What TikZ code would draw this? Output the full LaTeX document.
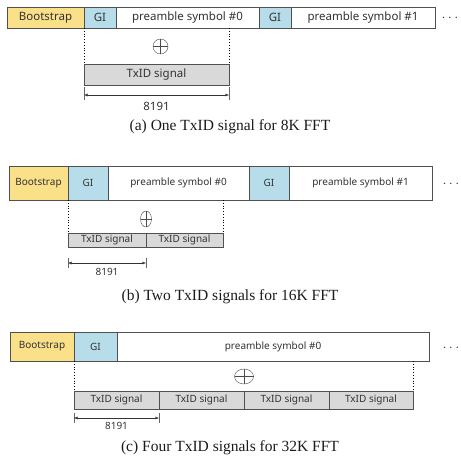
\documentclass[tikz,border=0pt]{standalone}
\usepackage{fontspec}
\setmainfont{Noto Sans}
\newfontfamily\capfont{Liberation Serif}
\usetikzlibrary{arrows.meta,positioning,shapes.geometric,calc}
\definecolor{frameGray}{HTML}{505050}
\definecolor{bootYellow}{HTML}{FBE08A}
\definecolor{giBlue}{HTML}{B7DDEA}
\definecolor{txGray}{HTML}{D9D9D9}
\definecolor{capInk}{HTML}{1A1A1A}

\begin{document}
\begin{tikzpicture}[x=1pt,y=-1pt,font=\fontsize{11.5}{13}\selectfont,node distance=0pt]
    \tikzset{field/.style={draw=frameGray,line width=0.6pt,fill=white,inner sep=0pt,outer sep=0pt,text=black!80},
      boot/.style={field,fill=bootYellow},
      gi/.style={field,fill=giBlue},
      txid/.style={field,fill=txGray},
      xorsym/.style={ellipse,draw=black!70,inner sep=0pt,outer sep=0pt},
      span/.style={{Latex[length=3.5pt,width=3pt]}-{Latex[length=3.5pt,width=3pt]},black!80,thin},
      ellip/.style={font=\fontsize{15}{15}\selectfont\bfseries,text=black!75,inner sep=0pt},
      caption/.style={font=\capfont\fontsize{15.5}{17}\selectfont,text=capInk}}
    \useasboundingbox (0,0) rectangle (460,462);
    % (a) 8K FFT
    \begin{scope}[every node/.append style={minimum height=21pt}]
      \node[boot,minimum width=77pt,anchor=north west] (a-boot) at (7,7) {Bootstrap};
      \node[gi,minimum width=32pt,right=of a-boot] (a-gi0) {GI};
      \node[field,minimum width=143pt,right=of a-gi0] (a-pre0) {preamble symbol \#0};
      \node[gi,minimum width=32pt,right=of a-pre0] (a-gi1) {GI};
      \node[field,minimum width=144pt,right=of a-gi1] (a-pre1) {preamble symbol \#1};
      \node[txid,minimum width=145pt,anchor=north west] (a-tx) at (84,64) {TxID signal};
    \end{scope}
    \node[ellip] (a-dots) at (450,18) {$\cdots$};
    \node[xorsym,minimum width=15pt,minimum height=15pt,above=10pt of a-tx,xshift=4pt] (a-xor) {};
    \draw[black!70] (a-xor.north) -- (a-xor.south) (a-xor.west) -- (a-xor.east);
    \draw[dotted,thick] (a-gi0.south west) -- (a-tx.north west);
    \draw[dotted,thick] (a-tx.north east |- a-pre0.south) -- (a-tx.north east);
    \draw[black!60] ($(a-tx.south west)+(0,2)$) -- ++(0,13) ($(a-tx.south east)+(0,2)$) -- ++(0,13);
    \draw[span] ($(a-tx.south west)+(0,10)$) -- ($(a-tx.south east)+(0,10)$)
      node[midway,below=4pt] (a-len) {8191};
    \node[caption] (a-cap) at (230,127) {(a) One TxID signal for 8K FFT};
    % (b) 16K FFT
    \begin{scope}[every node/.append style={minimum height=34pt,font=\fontsize{10}{12}\selectfont}]
      \node[boot,minimum width=59pt,anchor=north west] (b-boot) at (9,166) {Bootstrap};
      \node[gi,minimum width=40pt,right=of b-boot] (b-gi0) {GI};
      \node[field,minimum width=141pt,right=of b-gi0] (b-pre0) {preamble symbol \#0};
      \node[gi,minimum width=40pt,right=of b-pre0] (b-gi1) {GI};
      \node[field,minimum width=143pt,right=of b-gi1] (b-pre1) {preamble symbol \#1};
    \end{scope}
    \begin{scope}[every node/.append style={minimum height=14pt,font=\fontsize{10}{12}\selectfont}]
      \node[txid,minimum width=78pt,anchor=north west] (b-tx1) at (68,233) {TxID signal};
      \node[txid,minimum width=77pt,right=of b-tx1] (b-tx2) {TxID signal};
    \end{scope}
    \node[ellip] (b-dots) at (451,184) {$\cdots$};
    \node[xorsym,minimum width=11pt,minimum height=16pt,above=6pt of b-tx1.north east] (b-xor) {};
    \draw[black!70] (b-xor.north) -- (b-xor.south) (b-xor.west) -- (b-xor.east);
    \draw[dotted,thick] (b-gi0.south west) -- (b-tx1.north west);
    \draw[dotted,thick] (b-tx2.north east |- b-pre0.south) -- (b-tx2.north east);
    \draw[black!60] ($(b-tx1.south west)+(0,11)$) -- ++(0,10) ($(b-tx1.south east)+(0,11)$) -- ++(0,10);
    \draw[span] ($(b-tx1.south west)+(0,16)$) -- ($(b-tx1.south east)+(0,16)$)
      node[midway,below=2pt,font=\fontsize{10}{12}\selectfont] (b-len) {8191};
    \node[caption] (b-cap) at (230,297) {(b) Two TxID signals for 16K FFT};
    % (c) 32K FFT
    \begin{scope}[every node/.append style={minimum height=29pt,font=\fontsize{10}{12}\selectfont}]
      \node[boot,minimum width=64pt,anchor=north west] (c-boot) at (10,332) {Bootstrap};
      \node[gi,minimum width=43pt,right=of c-boot] (c-gi0) {GI};
      \node[field,minimum width=312pt,right=of c-gi0] (c-pre0) {preamble symbol \#0};
    \end{scope}
    \begin{scope}[every node/.append style={minimum height=18pt,font=\fontsize{10}{12}\selectfont}]
      \node[txid,minimum width=85pt,anchor=north west] (c-tx1) at (74,391) {TxID signal};
      \node[txid,minimum width=85pt,right=of c-tx1] (c-tx2) {TxID signal};
      \node[txid,minimum width=85pt,right=of c-tx2] (c-tx3) {TxID signal};
      \node[txid,minimum width=84pt,right=of c-tx3] (c-tx4) {TxID signal};
    \end{scope}
    \node[ellip] (c-dots) at (451,348) {$\cdots$};
    \node[xorsym,minimum width=19pt,minimum height=15pt,above=7pt of c-tx2.north east] (c-xor) {};
    \draw[black!70] (c-xor.north) -- (c-xor.south) (c-xor.west) -- (c-xor.east);
    \draw[dotted,thick] (c-gi0.south west) -- (c-tx1.north west);
    \draw[dotted,thick] (c-tx4.north east |- c-pre0.south) -- (c-tx4.north east);
    \draw[black!60] ($(c-tx1.south west)+(0,4)$) -- ++(0,10) ($(c-tx1.south east)+(0,4)$) -- ++(0,10);
    \draw[span] ($(c-tx1.south west)+(0,9)$) -- ($(c-tx1.south east)+(0,9)$)
      node[midway,below=1pt,font=\fontsize{10}{12}\selectfont] (c-len) {8191};
    \node[caption] (c-cap) at (230,448) {(c) Four TxID signals for 32K FFT};
  \end{tikzpicture}
\end{document}
